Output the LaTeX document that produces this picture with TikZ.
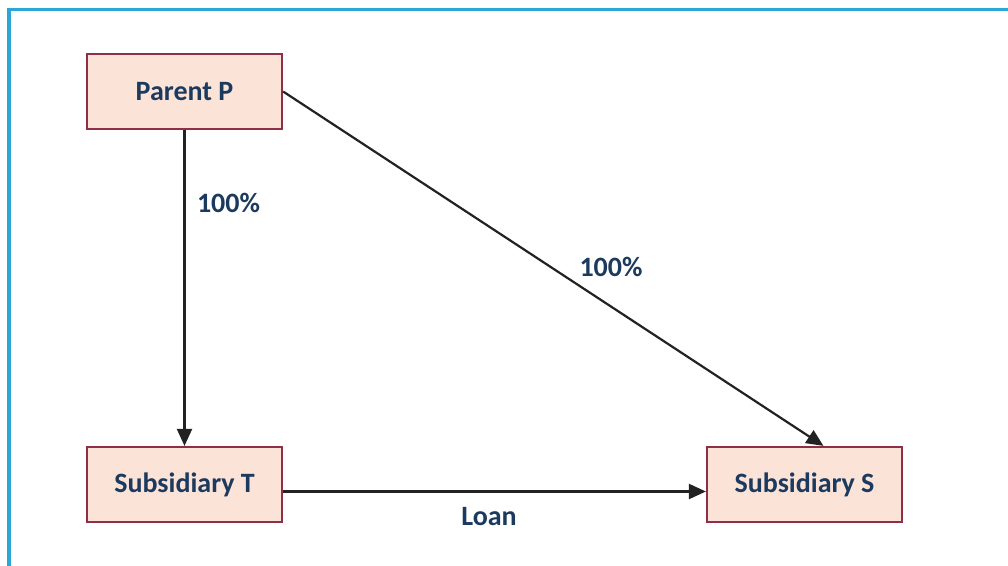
\documentclass[tikz,border=0pt]{standalone}
\usepackage{fontspec}
\setmainfont{Carlito}
\usepackage{tikz}
\usetikzlibrary{positioning, arrows.meta,calc}

\definecolor{frameblue}{HTML}{2AA7D6}
\definecolor{boxfill}{HTML}{FCE3D8}
\definecolor{boxline}{HTML}{8E2E47}
\definecolor{txtnavy}{HTML}{1B3A5E}
\definecolor{linegray}{HTML}{222222}

\begin{document}
\begin{tikzpicture}[x=0.5bp, y=-0.5bp,
	entity/.style={rectangle, draw=boxline, fill=boxfill, line width=1.1bp,
		minimum width=97.5bp, minimum height=37.5bp, text=txtnavy,
		font=\fontsize{14bp}{16bp}\selectfont\bfseries},
	conn/.style={-{Triangle[length=8.5bp,width=7.5bp]}, draw=linegray, line width=1.1bp},
	lbl/.style={text=txtnavy, font=\fontsize{14bp}{16bp}\selectfont\bfseries}]
	
	\useasboundingbox (0,0) rectangle (1008,566);
	
	% outer frame
	\draw[frameblue, line width=1.5bp] (9,10) rectangle (1020,580);
	
	% Companies
	\node[entity] (parent) at (184.5,91.5) {Parent P};
	
	\node[entity] (subT) at ($(parent) + (0,393)$) {Subsidiary T};
	
	\node[entity] (subS) at ($(subT) + (620,0)$) {Subsidiary S};
	
	
	% Connections
	
	\draw[conn] (parent) -- (subT);
	\node[lbl, anchor=west] (ownT) at (190,203) {100\%};
	
	\draw[conn] (parent.east) -- ($(subS.north) + (19,0)$);
	\node[lbl] (ownS) at (611,267) {100\%};
	
	\draw[conn] ($(subT.east) + (0,7)$) -- ($(subS.west) + (0,7)$);
	\node[lbl] (loan) at (489,517) {Loan};
	
\end{tikzpicture}
\end{document}
